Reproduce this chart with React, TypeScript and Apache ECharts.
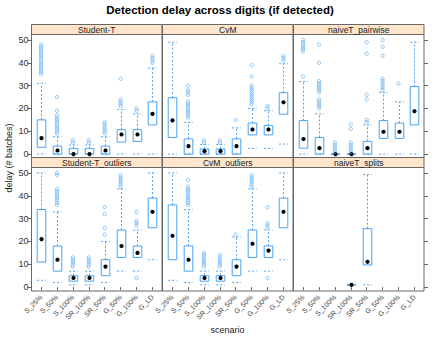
import React, { useEffect, useRef } from "react";
import * as echarts from "echarts";

const categories = ["S_25%", "S_50%", "S_100%", "SR_100%", "SR_50%", "G_50%", "G_100%", "G_LD"];
const panelTitles = ["Student-T", "CvM", "naiveT_pairwise", "Student-T_outliers", "CvM_outliers", "naiveT_splits"];
const yTicks = [0, 10, 20, 30, 40, 50];
const xTicks = [1, 2, 3, 4, 5, 6, 7, 8];

// box stats: [lower whisker, Q1, median, Q3, upper whisker]
const studentTBoxes = [
  [0, 3, 7, 15, 31],
  [0, 0, 1.6, 3.5, 7.6],
  [0, 0, 0, 2.5, 4],
  [0, 0, 0, 2.5, 4],
  [0, 0, 1.6, 3.5, 7.6],
  [0, 5.3, 8.6, 10.7, 19.5],
  [0, 5.6, 8.6, 10.7, 17.6],
  [0, 12.8, 17.6, 22.9, 37.7],
];
const studentTOutliers = [
  [35, 36, 37, 38, 39, 40, 41, 42, 43, 44, 45, 46, 47, 48],
  [9, 10, 11, 12, 13, 14, 15, 16, 17, 19, 25],
  [5, 6],
  [5, 6],
  [9, 10, 11, 12, 13, 14],
  [21, 22, 23, 24, 33],
  [19, 20],
  [40, 41, 42, 43],
];

const cvmBoxes = [
  [0, 7.3, 14.8, 24.7, 49],
  [0, 0, 3.5, 6.7, 13.9],
  [0, 0, 1.3, 2.3, 4.2],
  [0, 0, 1.3, 2.3, 4.2],
  [0, 0, 3.5, 6.7, 11.5],
  [2.5, 8.4, 10.8, 13.6, 20],
  [2.5, 8.4, 10.8, 12.5, 19],
  [4.4, 17.5, 22.7, 26.9, 39.6],
];
const cvmOutliers = [
  [],
  [16, 17, 18, 19, 20, 21, 22, 23, 26, 27, 28, 30],
  [5, 6],
  [5, 6],
  [15],
  [22, 23, 24, 25, 26, 27, 28, 29, 30, 34, 39],
  [20, 21],
  [41, 42, 43],
];

const pairwiseBoxes = [
  [0, 2.6, 6.6, 14.7, 31.8],
  [0, 0, 2.6, 7.3, 17.6],
  [0, 0, 0, 0, 0],
  [0, 0, 0, 0, 0],
  [0, 0, 2.6, 5.6, 12.8],
  [0, 6.9, 9.8, 14.7, 27],
  [0, 6.9, 9.8, 13.6, 22.9],
  [0, 12.8, 18.8, 29.6, 49],
];
const pairwiseOutliers = [
  [34, 45, 46, 47, 48, 49, 50],
  [20, 21, 22, 23, 24, 27, 28, 29, 30, 31, 32, 40, 48],
  [1, 2, 3, 4, 5],
  [1, 2, 3, 4, 5, 11, 13],
  [14, 15, 24, 26, 44, 49],
  [28, 29, 30, 31, 32, 33, 43, 47, 50],
  [31],
  [],
];

const studentTOutBoxes = [
  [3, 11, 21, 34, 50],
  [2, 7, 12, 18, 33],
  [1, 2.6, 4, 5, 7],
  [1, 2.6, 4, 5, 7],
  [2, 5, 9, 12, 20],
  [7, 13, 18, 25, 43],
  [7, 13, 15, 18, 25],
  [12, 26, 33, 39, 50],
];
const studentTOutOutliers = [
  [],
  [36, 37, 38, 39, 40, 41, 42, 43, 49, 50],
  [9, 10, 11, 12, 13],
  [9, 10, 11, 12, 13],
  [23, 26, 32, 35],
  [44, 45, 46, 47, 48, 49],
  [4, 27, 28, 29, 33],
  [],
];

const cvmOutBoxes = [
  [3, 12, 22.5, 36, 50],
  [2, 7, 12, 18, 34],
  [1, 2.6, 4, 5, 7],
  [1, 2.6, 4, 5, 7],
  [2, 5, 9, 12, 22],
  [7, 13, 19, 25, 43],
  [7, 13, 16, 18, 25],
  [12, 26, 33, 39, 50],
];
const cvmOutOutliers = [
  [],
  [36, 37, 38, 39, 40, 41, 42, 43, 44, 47],
  [9, 10, 11, 12, 13, 14, 15],
  [9, 10, 11, 12, 13, 14],
  [23],
  [44, 45, 46, 47, 48, 49],
  [4, 26, 27, 28, 35],
  [],
];

const splitsBoxes = [null, null, null, [1, 1, 1, 1, 1], [1, 9.7, 11.1, 25.6, 49.3], null, null, null];
const splitsOutliers = [[], [], [], [], [], [], [], []];

const allBoxes = [studentTBoxes, cvmBoxes, pairwiseBoxes, studentTOutBoxes, cvmOutBoxes, splitsBoxes];
const allOutliers = [studentTOutliers, cvmOutliers, pairwiseOutliers, studentTOutOutliers, cvmOutOutliers, splitsOutliers];

const BLUE = "#4aa3f5";
const BORDER = "#666666";
const FONT = "Liberation Sans";

const colLefts = [31.5, 162.5, 293.5];
const panelW = 130.5;
const rowTops = [34.5, 167.5];
const panelH = 123.5;
const stripH = 10;

function renderBox(params: any, api: any) {
  const x = api.value(0);
  const lo = api.coord([x, api.value(1)]);
  const q1 = api.coord([x, api.value(2)]);
  const md = api.coord([x, api.value(3)]);
  const q3 = api.coord([x, api.value(4)]);
  const hi = api.coord([x, api.value(5)]);
  const hw = api.size([0.27, 0])[0];
  const cx = Math.round(lo[0]) + 0.5;
  const dash = { stroke: BLUE, lineWidth: 1, lineDash: [2, 2] };
  const children: any[] = [];
  if (q1[1] - lo[1] > 0.5) {
    children.push({ type: "line", shape: { x1: cx, y1: q1[1], x2: cx, y2: lo[1] }, style: dash });
  }
  if (q3[1] - hi[1] > 0.5) {
    children.push({ type: "line", shape: { x1: cx, y1: q3[1], x2: cx, y2: hi[1] }, style: dash });
  }
  children.push({ type: "line", shape: { x1: cx - hw, y1: lo[1], x2: cx + hw, y2: lo[1] }, style: dash });
  children.push({ type: "line", shape: { x1: cx - hw, y1: hi[1], x2: cx + hw, y2: hi[1] }, style: dash });
  children.push({
    type: "rect",
    shape: { x: cx - hw, y: q3[1], width: hw * 2, height: Math.max(q1[1] - q3[1], 0.01) },
    style: { fill: "none", stroke: BLUE, lineWidth: 1 },
  });
  children.push({ type: "circle", shape: { cx, cy: md[1], r: 2.1 }, style: { fill: "#000" } });
  return { type: "group", children };
}

export default function App() {
  const ref = useRef<HTMLDivElement>(null);
  useEffect(() => {
    if (!ref.current) return;
    const chart = echarts.init(ref.current, undefined, { renderer: "svg" });
    const grids: any[] = [];
    const xAxes: any[] = [];
    const yAxes: any[] = [];
    const series: any[] = [];
    const graphics: any[] = [];
    for (let i = 0; i < 6; i++) {
      const row = Math.floor(i / 3);
      const col = i % 3;
      const left = colLefts[col];
      const top = rowTops[row];
      grids.push({
        left, top, width: panelW, height: panelH,
        show: true, borderColor: BORDER, borderWidth: 1, backgroundColor: "transparent",
      });
      const bottom = row === 1;
      xAxes.push({
        gridIndex: i, type: "value", min: 0.4, max: 8.6,
        axisLine: { show: false }, splitLine: { show: false },
        axisTick: { show: bottom, customValues: xTicks, length: 3, lineStyle: { color: BORDER } },
        axisLabel: {
          show: bottom, customValues: xTicks, rotate: 45, fontSize: 7, color: "#444",
          fontFamily: FONT, margin: 5,
          formatter: (v: number) => categories[Math.round(v) - 1] ?? "",
        },
      });
      yAxes.push({
        gridIndex: i, type: "value", min: -1.7, max: 52.4,
        position: col === 2 ? "right" : "left",
        axisLine: { show: false }, splitLine: { show: false },
        axisTick: { show: col !== 1, customValues: yTicks, length: 4, lineStyle: { color: BORDER } },
        axisLabel: {
          show: col === 0, customValues: yTicks, fontSize: 9, color: "#333", fontFamily: FONT, margin: 3,
        },
      });
      const boxes = allBoxes[i];
      const boxData: any[] = [];
      boxes.forEach((b: any, j: number) => {
        if (b) boxData.push([j + 1, ...b]);
      });
      const outData: any[] = [];
      allOutliers[i].forEach((arr: number[], j: number) => {
        arr.forEach((v) => outData.push([j + 1, v]));
      });
      series.push({
        type: "custom", xAxisIndex: i, yAxisIndex: i, renderItem: renderBox,
        encode: { x: 0, y: [1, 2, 3, 4, 5] }, data: boxData, z: 2, silent: true,
      });
      series.push({
        type: "scatter", xAxisIndex: i, yAxisIndex: i, data: outData, symbol: "circle", symbolSize: 3.3,
        itemStyle: { color: "rgba(0,0,0,0)", borderColor: BLUE, borderWidth: 0.8 }, z: 3, silent: true,
      });
      graphics.push({
        type: "rect",
        shape: { x: left, y: top - stripH, width: panelW, height: stripH },
        style: { fill: "#ffe5cc", stroke: BORDER, lineWidth: 1 },
      });
      graphics.push({
        type: "text", x: left + panelW / 2, y: top - stripH / 2 + 0.5,
        style: { text: panelTitles[i], fontSize: 8.5, fontFamily: FONT, fill: "#222", align: "center", verticalAlign: "middle" },
      });
    }
    graphics.push({
      type: "text", x: 220, y: 9.5,
      style: { text: "Detection delay across digits (if detected)", fontSize: 11.5, fontWeight: "bold", fontFamily: FONT, fill: "#000", align: "center", verticalAlign: "middle" },
    });
    graphics.push({
      type: "text", x: 227.5, y: 330,
      style: { text: "scenario", fontSize: 9, fontFamily: FONT, fill: "#222", align: "center", verticalAlign: "middle" },
    });
    graphics.push({
      type: "text", x: 8.5, y: 158, rotation: Math.PI / 2,
      style: { text: "delay (# batches)", fontSize: 9, fontFamily: FONT, fill: "#222", align: "center", verticalAlign: "middle" },
    });
    chart.setOption({
      animation: false,
      backgroundColor: "#fff",
      textStyle: { fontFamily: FONT },
      grid: grids,
      xAxis: xAxes,
      yAxis: yAxes,
      series,
      graphic: graphics,
    });
    return () => chart.dispose();
  }, []);
  return <div ref={ref} style={{ position: "fixed", left: 0, top: 0, width: 440, height: 340 }} />;
}
